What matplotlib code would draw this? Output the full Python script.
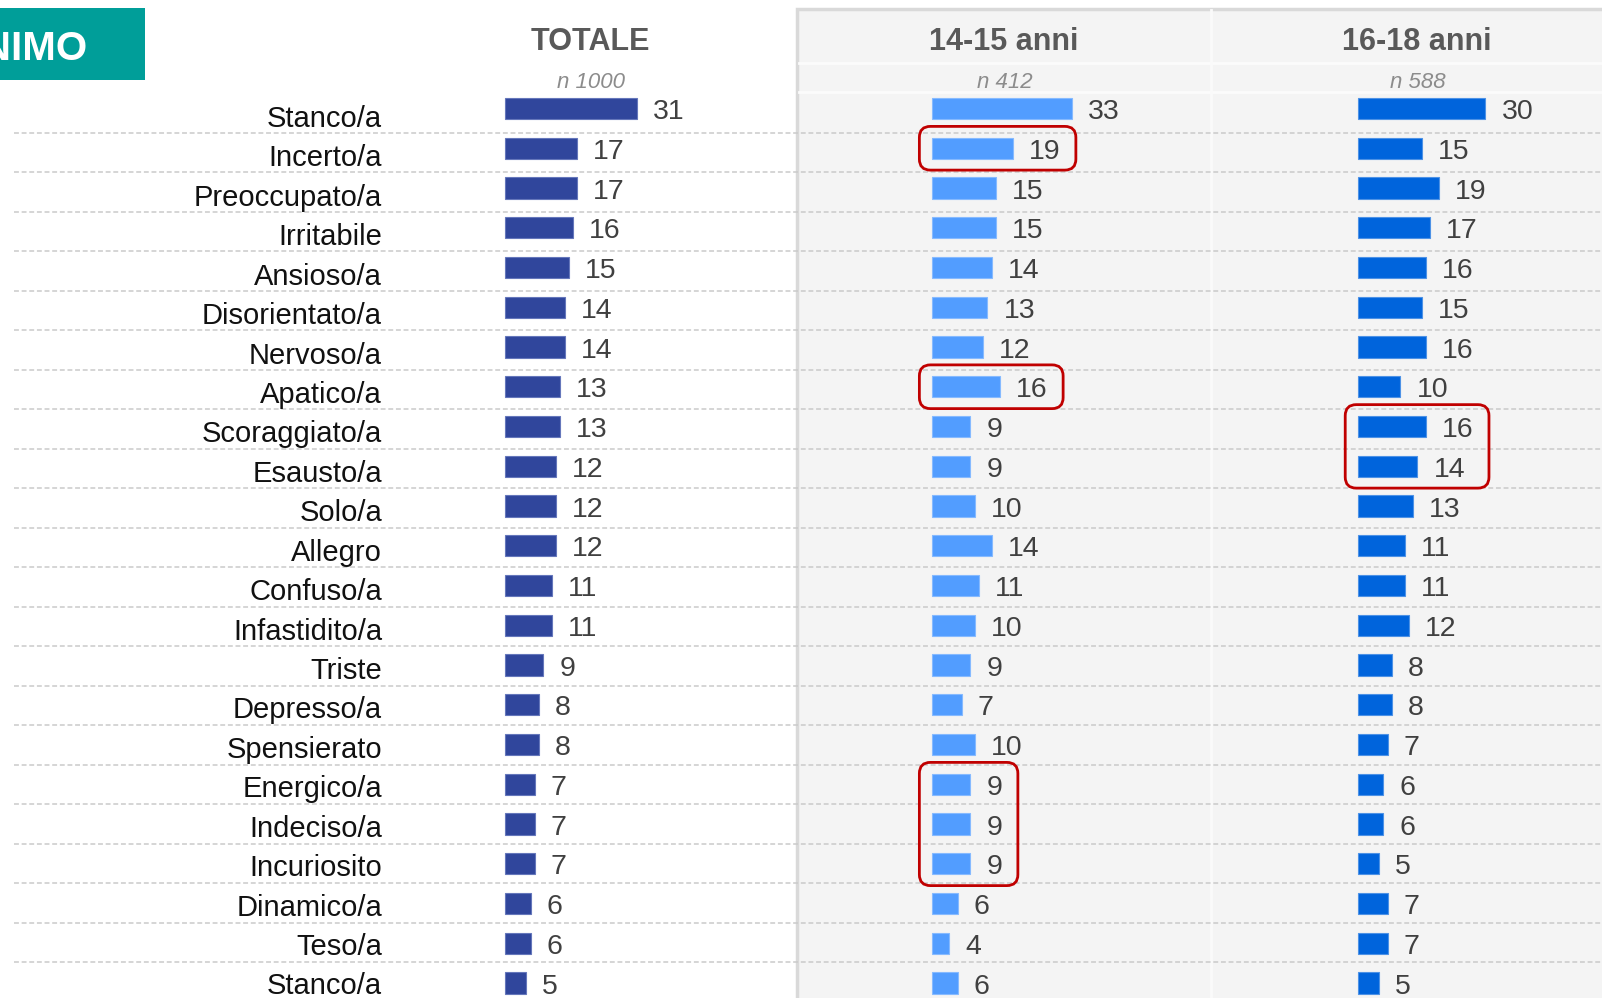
import matplotlib
matplotlib.use("Agg")
import matplotlib.pyplot as plt
from matplotlib.patches import Rectangle, FancyBboxPatch

categories = ["Stanco/a", "Incerto/a", "Preoccupato/a", "Irritabile", "Ansioso/a",
              "Disorientato/a", "Nervoso/a", "Apatico/a", "Scoraggiato/a", "Esausto/a",
              "Solo/a", "Allegro", "Confuso/a", "Infastidito/a", "Triste", "Depresso/a",
              "Spensierato", "Energico/a", "Indeciso/a", "Incuriosito", "Dinamico/a",
              "Teso/a", "Stanco/a"]
totale = [31, 17, 17, 16, 15, 14, 14, 13, 13, 12, 12, 12, 11, 11, 9, 8, 8, 7, 7, 7, 6, 6, 5]
eta_14_15 = [33, 19, 15, 15, 14, 13, 12, 16, 9, 9, 10, 14, 11, 10, 9, 7, 10, 9, 9, 9, 6, 4, 6]
eta_16_18 = [30, 15, 19, 17, 16, 15, 16, 10, 16, 14, 13, 11, 11, 12, 8, 8, 7, 6, 6, 5, 7, 7, 5]

headers = ["TOTALE", "14-15 anni", "16-18 anni"]
samples = ["n 1000", "n 412", "n 588"]
colors = ["#30469c", "#529dff", "#0064dc"]
edge_colors = ["#6577bb", "#86baff", "#4d92e6"]
# highlighted cells: (column, first row, last row)
highlights = [(1, 1, 1), (1, 7, 7), (2, 8, 9), (1, 17, 19)]

plt.rcParams["font.family"] = ["Liberation Sans", "DejaVu Sans"]

W, H = 1602, 998
PX_X = 4.25    # pixels per percentage point
PX_Y = 39.75   # pixels per row
X0, Y0 = 505, 108.5


def px_x(p):
    return (p - X0) / PX_X


def px_y(p):
    return (p - Y0) / PX_Y


fig = plt.figure(figsize=(W / 100, H / 100), dpi=100)
ax = fig.add_axes([0, 0, 1, 1])
ax.set_xlim(px_x(0), px_x(W))
ax.set_ylim(px_y(H), px_y(0))
ax.axis("off")

offsets = [0, 100.5, 200.7]
columns = [totale, eta_14_15, eta_16_18]
n = len(categories)

# grey panel behind the age groups
ax.add_patch(Rectangle((px_x(797), px_y(9)), px_x(W + 20) - px_x(797),
                       px_y(H + 20) - px_y(9), facecolor="#f4f4f4",
                       edgecolor="#d9d9d9", lw=2.5, zorder=0))
for yy in (63, 92):
    ax.plot([px_x(799), px_x(W)], [px_y(yy)] * 2, color="#fbfbfb", lw=2, zorder=1)
ax.plot([px_x(1211)] * 2, [px_y(10), px_y(H)], color="#fafafa", lw=2, zorder=1)

# title tab
ax.add_patch(Rectangle((px_x(0), px_y(8)), 145 / PX_X, 72 / PX_Y,
                       facecolor="#009e99", edgecolor="none", zorder=2))
ax.text(px_x(87), px_y(60), "STATO D'ANIMO", ha="right", va="baseline",
        fontsize=29, fontweight="bold", color="white", zorder=3)

# row separators
for k in range(n - 1):
    y = px_y(132.7 + 39.5 * k)
    ax.plot([px_x(14), px_x(W)], [y, y], color="#cacaca", lw=1.1,
            dashes=(3.2, 1.8), zorder=1)

for i, cat in enumerate(categories):
    ax.text(px_x(382), px_y(127 + 39.43 * i), cat, ha="right", va="baseline",
            fontsize=21, color="#111111", zorder=3)

centers = [590, 1004, 1417]
for c, vals in enumerate(columns):
    ax.barh(range(n), vals, left=offsets[c], height=0.54, color=colors[c],
            edgecolor=edge_colors[c], lw=0.8, zorder=2)
    for i, v in enumerate(vals):
        ax.text(offsets[c] + v + 16 / PX_X, i + 0.265, str(v), ha="left",
                va="baseline", fontsize=20.5, color="#404040", zorder=3)
    ax.text(px_x(centers[c]), px_y(49.5), headers[c], ha="center", va="baseline",
            fontsize=22, fontweight="bold", color="#595959", zorder=3)
    ax.text(px_x(centers[c] + 1), px_y(88), samples[c], ha="center", va="baseline",
            fontsize=16, fontstyle="italic", color="#8c8c8c", zorder=3)

for c, r0, r1 in highlights:
    top = max(columns[c][r0:r1 + 1])
    left = offsets[c] - 3.0
    right = offsets[c] + top + (16 + 15.5 * len(str(top)) + 16) / PX_X
    ax.add_patch(FancyBboxPatch((left, r0 - 0.55), right - left, r1 - r0 + 1.1,
                                boxstyle="round,pad=0,rounding_size=2.6",
                                mutation_aspect=PX_X / PX_Y, fill=False,
                                edgecolor="#c00000", lw=2, zorder=4))

fig.savefig("out.png", dpi=100)
